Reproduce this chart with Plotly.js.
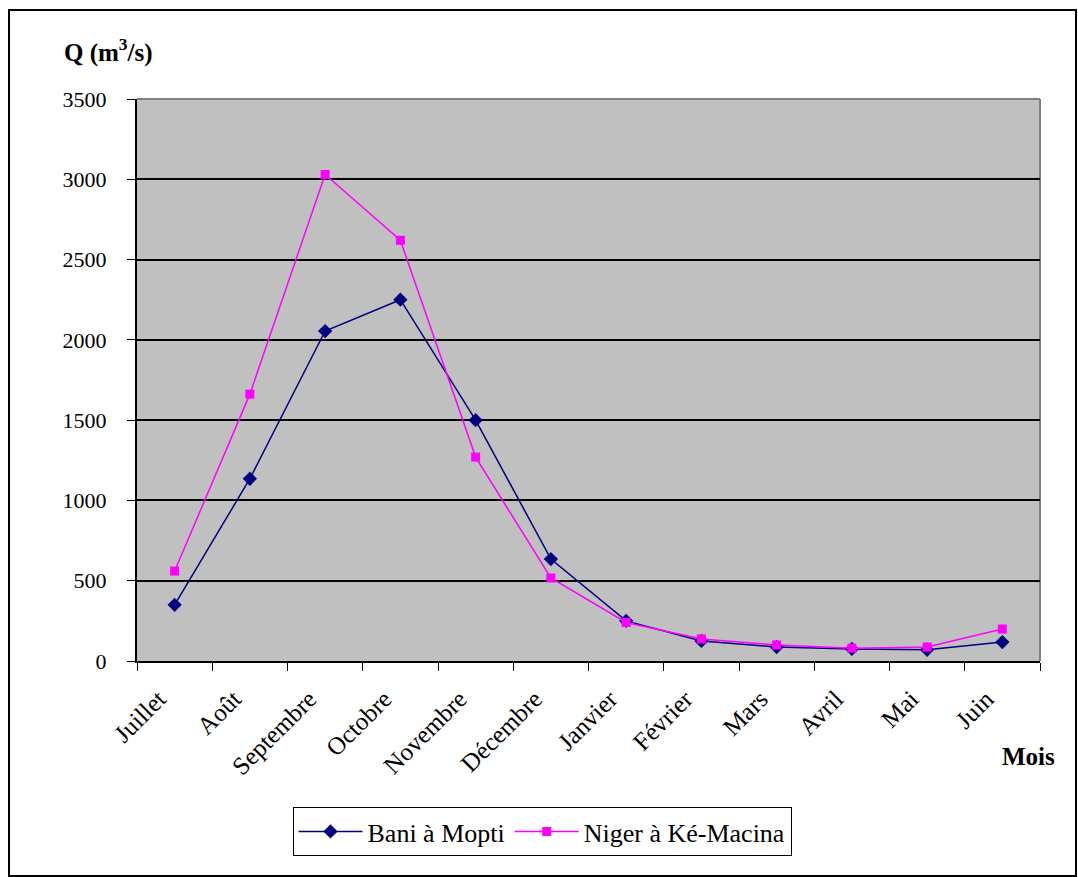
<!DOCTYPE html>
<html>
<head>
<meta charset="utf-8">
<script src="https://cdn.plot.ly/plotly-3.0.1.min.js"></script>
<style>html,body{margin:0;padding:0;background:#fff;}#chart{width:1078px;height:877px;}</style>
</head>
<body>
<div id="chart"></div>
<script>
const months = ["Juillet","Août","Septembre","Octobre","Novembre","Décembre","Janvier","Février","Mars","Avril","Mai","Juin"];
const baniMopti = [350,1135,2055,2250,1500,635,250,125,87,75,70,118];
const nigerKeMacina = [560,1662,3030,2620,1270,517,240,137,100,80,87,199];
const seriesNames = ["Bani à Mopti","Niger à Ké-Macina"];
const yTicks = [0,500,1000,1500,2000,2500,3000,3500];

const serif = "Liberation Serif";
const W = 1078, H = 877;
const L = 137, R = 1040, T = 99, B = 661;
const px = x => (x - L) / (R - L);
const py = y => (B - y) / (B - T);

const traces = [
  {x: months, y: baniMopti, name: seriesNames[0], type: "scatter", mode: "lines+markers",
   line: {color: "#000080", width: 1.5}, marker: {symbol: "diamond", size: 11, color: "#000080"}},
  {x: months, y: nigerKeMacina, name: seriesNames[1], type: "scatter", mode: "lines+markers",
   line: {color: "#FF00FF", width: 1.5}, marker: {symbol: "square", size: 9, color: "#FF00FF"}}
];

const layout = {
  width: W, height: H,
  margin: {l: L, r: W - R, t: T, b: H - B, pad: 0},
  paper_bgcolor: "#ffffff",
  plot_bgcolor: "#c0c0c0",
  font: {family: serif, size: 23, color: "#000"},
  showlegend: true,
  legend: {orientation: "h", x: px(542), xanchor: "center", y: py(807), yanchor: "top",
           bordercolor: "#000", borderwidth: 1, bgcolor: "#fff", itemwidth: 64,
           font: {family: serif, size: 26, color: "#000"}, tracegroupgap: 0},
  xaxis: {type: "category", range: [-0.5, 11.5], tickangle: -45, tickson: "boundaries", ticks: "outside", ticklen: 8,
          tickcolor: "#000", showline: true, linecolor: "#000", linewidth: 1.5, showgrid: false,
          mirror: false, tickfont: {family: serif, size: 25}, zeroline: false,
          ticklabelstandoff: 12, ticklabelshift: -16},
  yaxis: {range: [0, 3500], tickvals: yTicks, ticks: "outside", ticklen: 8, tickcolor: "#000",
          showline: true, linecolor: "#000", linewidth: 2, showgrid: true, gridcolor: "#000",
          gridwidth: 2, zeroline: false, tickfont: {family: serif, size: 22}, ticklabelstandoff: 16},
  annotations: [
    {text: "<b>Q (m<sup>3</sup>/s)</b>", xref: "paper", yref: "paper", x: px(62), y: py(50),
     xanchor: "left", yanchor: "middle", showarrow: false, font: {family: serif, size: 25}},
    {text: "<b>Mois</b>", xref: "paper", yref: "paper", x: px(1057), y: py(757),
     xanchor: "right", yanchor: "middle", showarrow: false, font: {family: serif, size: 25}}
  ],
  shapes: [
    {type: "rect", xref: "paper", yref: "paper", x0: px(9), x1: px(1076), y0: py(876), y1: py(10),
     line: {color: "#000", width: 2}, fillcolor: "rgba(0,0,0,0)", layer: "above"},
    {type: "line", xref: "paper", yref: "paper", x0: 0, x1: 1, y0: 1, y1: 1,
     line: {color: "#808080", width: 2}, layer: "below"},
    {type: "line", xref: "paper", yref: "paper", x0: 1, x1: 1, y0: 0, y1: 1,
     line: {color: "#808080", width: 2}, layer: "below"}
  ]
};

Plotly.newPlot("chart", traces, layout, {displayModeBar: false, staticPlot: true});
</script>
</body>
</html>
